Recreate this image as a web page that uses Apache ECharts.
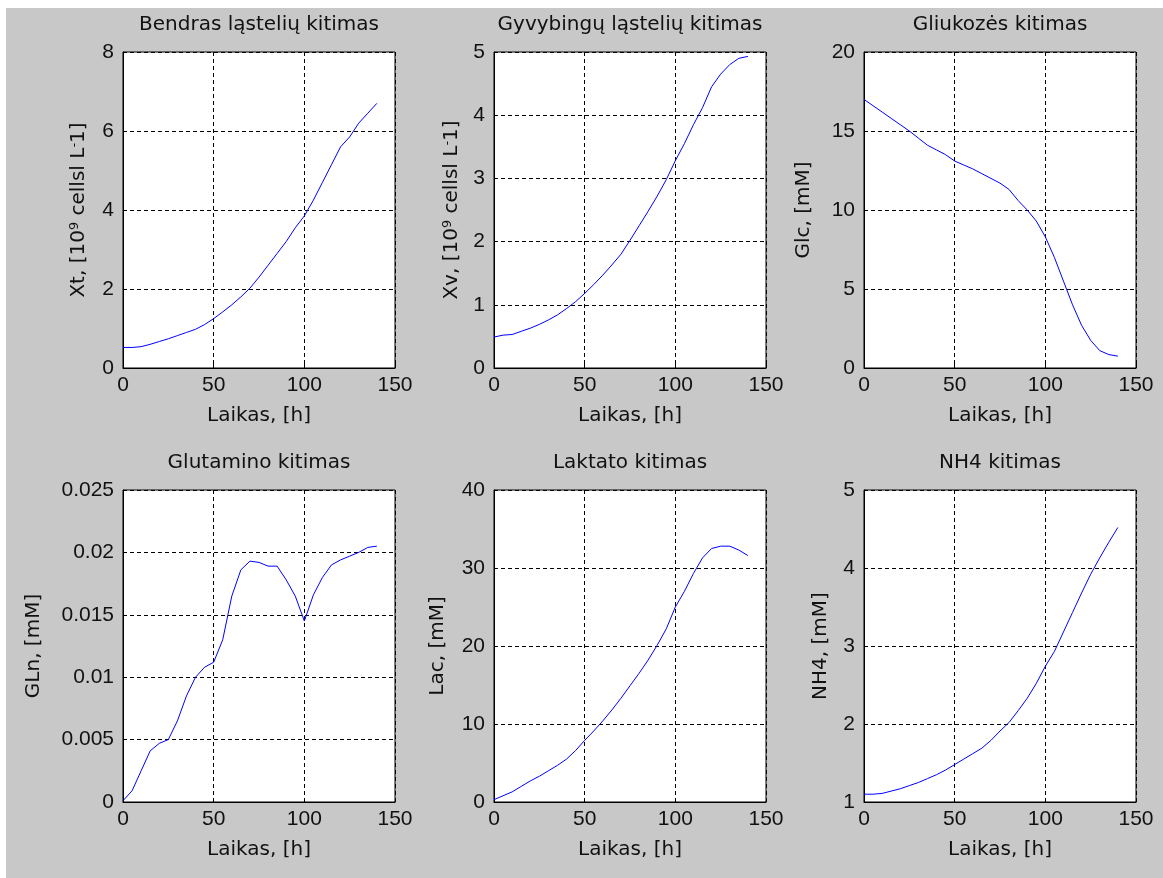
<!DOCTYPE html>
<html>
<head>
<meta charset="utf-8">
<script src="https://cdn.jsdelivr.net/npm/echarts@6/dist/echarts.min.js"></script>
<style>
html,body{margin:0;padding:0;background:#fff;}
#chart{width:1163px;height:878px;}
</style>
</head>
<body>
<div id="chart"></div>
<script>
// Time axis (hours)
const time = [0,5,10,15,20,25,30,35,40,45,50,55,60,65,70,75,80,85,90,95,100,105,110,115,120,125,130,135,140];

// Series values
const xtValues  = [0.52,0.52,0.54,0.60,0.67,0.74,0.82,0.90,0.98,1.10,1.25,1.42,1.60,1.80,2.02,2.30,2.60,2.90,3.20,3.55,3.85,4.25,4.70,5.15,5.60,5.85,6.20,6.45,6.70];
const xvValues  = [0.49,0.52,0.53,0.58,0.63,0.69,0.76,0.84,0.94,1.05,1.18,1.32,1.47,1.63,1.80,2.02,2.25,2.48,2.72,2.98,3.28,3.55,3.85,4.12,4.45,4.65,4.80,4.90,4.93];
const glcValues = [17.0,16.6,16.2,15.8,15.4,15.0,14.55,14.1,13.8,13.5,13.1,12.85,12.6,12.3,12.0,11.7,11.3,10.6,10.0,9.3,8.3,7.0,5.5,4.0,2.7,1.75,1.1,0.85,0.75];
const glnValues = [0.0001,0.0009,0.0025,0.0041,0.0047,0.0050,0.0065,0.0085,0.0100,0.0108,0.0112,0.0130,0.0165,0.0186,0.0193,0.0192,0.0189,0.0189,0.0178,0.0165,0.0145,0.0166,0.0180,0.0190,0.0194,0.0197,0.0200,0.0204,0.0205];
const lacValues = [0.3,0.8,1.3,2.0,2.7,3.3,4.0,4.7,5.5,6.6,7.9,9.1,10.4,11.8,13.3,14.9,16.5,18.2,20.1,22.2,25.0,27.0,29.3,31.3,32.5,32.8,32.8,32.3,31.6];
const nh4Values = [1.10,1.10,1.11,1.14,1.17,1.21,1.25,1.30,1.35,1.41,1.48,1.55,1.62,1.69,1.79,1.91,2.02,2.17,2.33,2.52,2.74,2.93,3.18,3.43,3.68,3.92,4.13,4.33,4.52];

// Texts
const titles = ['Bendras ląstelių kitimas','Gyvybingų ląstelių kitimas','Gliukozės kitimas','Glutamino kitimas','Laktato kitimas','NH4 kitimas'];
const yNames = ['Xt, [10{sup|9} cellsl L{sup|-}1]','Xv, [10{sup|9} cellsl L{sup|-}1]','Glc, [mM]','GLn, [mM]','Lac, [mM]','NH4, [mM]'];
const xName = 'Laikas, [h]';
const xTicks = {min:0, max:150, interval:50};
const yRanges = [
  {min:0, max:8, interval:2},
  {min:0, max:5, interval:1},
  {min:0, max:20, interval:5},
  {min:0, max:0.025, interval:0.005},
  {min:0, max:40, interval:10},
  {min:1, max:5, interval:1}
];
const seriesValues = [xtValues, xvValues, glcValues, glnValues, lacValues, nh4Values];

// Layout
const grids = [
  {left:123, top:52, width:272, height:316},
  {left:494, top:52, width:272, height:316},
  {left:864, top:52, width:272, height:316},
  {left:123, top:490, width:272, height:312},
  {left:494, top:490, width:272, height:312},
  {left:864, top:490, width:272, height:312}
];
const yNameGaps = [34, 32, 50, 79, 46, 33];

const TXT = 'DejaVu Sans';
const NUM = 'Liberation Sans';
const dashed = {show:true, lineStyle:{color:'#000', type:[4,3], width:1}};

const option = {
  backgroundColor:'#fff',
  animation:false,
  graphic:[{type:'rect', z:-100, shape:{x:6, y:8, width:1157, height:870}, style:{fill:'#c8c8c8'}}],
  title: grids.map((g,i)=>({
    text: titles[i],
    left: g.left + g.width/2,
    textAlign:'center',
    top: g.top - 37,
    padding:0,
    textStyle:{fontFamily:TXT, fontSize:20, fontWeight:'normal', color:'#111'}
  })),
  grid: grids.map(g=>Object.assign({show:true, backgroundColor:'#fff', borderColor:'#000', borderWidth:1, containLabel:false}, g)),
  xAxis: grids.map((g,i)=>({
    type:'value', gridIndex:i,
    min:xTicks.min, max:xTicks.max, interval:xTicks.interval,
    name:xName, nameLocation:'middle', nameGap:38,
    nameTextStyle:{fontFamily:TXT, fontSize:20, color:'#111'},
    axisLine:{show:true, lineStyle:{color:'#000', width:1}},
    axisTick:{show:true, inside:true, length:4, lineStyle:{color:'#000'}},
    axisLabel:{fontFamily:NUM, fontSize:21, color:'#111', margin:7},
    splitLine:dashed
  })),
  yAxis: grids.map((g,i)=>({
    type:'value', gridIndex:i,
    min:yRanges[i].min, max:yRanges[i].max, interval:yRanges[i].interval,
    name:yNames[i], nameLocation:'middle', nameGap:yNameGaps[i],
    nameTextStyle:{fontFamily:TXT, fontSize:20, color:'#111',
      rich:{sup:{fontFamily:TXT, fontSize:13, color:'#111', verticalAlign:'top', padding:[0,0,8,0]}}},
    axisLine:{show:true, lineStyle:{color:'#000', width:1}},
    axisTick:{show:true, inside:true, length:4, lineStyle:{color:'#000'}},
    axisLabel:{fontFamily:NUM, fontSize:21, color:'#111', margin:9},
    splitLine:dashed
  })),
  series: seriesValues.map((vals,i)=>({
    type:'line', xAxisIndex:i, yAxisIndex:i,
    data: time.map((t,k)=>[t, vals[k]]),
    showSymbol:false, symbol:'none', smooth:false,
    lineStyle:{color:'#0000ff', width:1},
    itemStyle:{color:'#0000ff'},
    z:5
  }))
};

const chart = echarts.init(document.getElementById('chart'), null, {renderer:'canvas'});
chart.setOption(option);
</script>
</body>
</html>
